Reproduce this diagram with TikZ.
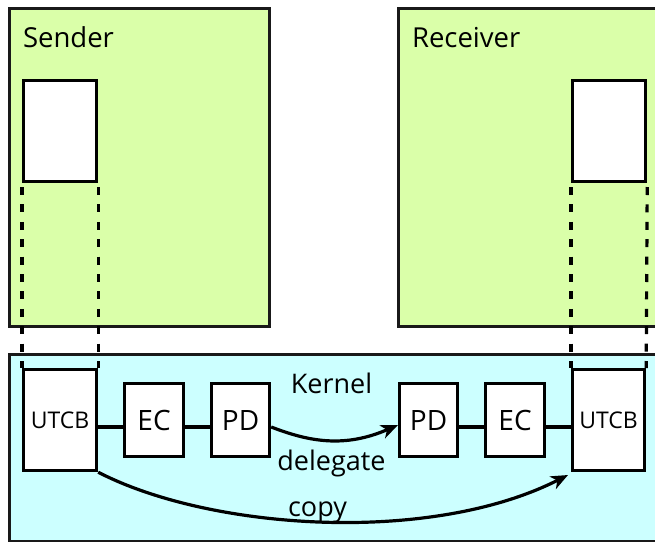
\documentclass[tikz,border=0pt]{standalone}
\usepackage{fontspec}
\setmainfont{Open Sans}
\usetikzlibrary{arrows.meta}
\definecolor{ugreen}{HTML}{DAFFA9}
\definecolor{ucyan}{HTML}{CCFFFF}
\begin{document}
\begin{tikzpicture}[x=1pt,y=-1pt,
  outer/.style={draw=black!90, line width=2.5pt, inner sep=0pt, anchor=north west},
  wbox/.style={draw, line width=3.2pt, fill=white, inner sep=0pt, anchor=north west},
  big/.style={font=\fontsize{27.5}{32}\selectfont},
  boxt/.style={font=\fontsize{28}{32}\selectfont},
  mid/.style={font=\fontsize{27}{31}\selectfont},
  small/.style={font=\fontsize{23}{27}\selectfont},
  guide/.style={line width=3.2pt, dash pattern=on 8pt off 9.4pt},
  conn/.style={line width=3.2pt},
  arr/.style={line width=3.2pt, -{Stealth[length=17pt, width=14pt, inset=5pt]}}]
\useasboundingbox (0,0) rectangle (655,541);
\clip (0,0) rectangle (655,541);
% outer regions
\node[outer, fill=ugreen, minimum width=260pt, minimum height=318pt] (sender) at (8,7) {};
\node[outer, fill=ugreen, minimum width=280pt, minimum height=318pt] (receiver) at (397,7) {};
\node[outer, fill=ucyan, minimum width=670pt, minimum height=186.5pt] (kernel) at (8,353) {};
\node[big, anchor=base west] (sendert) at (19.5,47) {Sender};
\node[big, anchor=base west] (receivert) at (408.5,47) {Receiver};
% user-space boxes
\node[wbox, minimum width=73pt, minimum height=101pt] (ubL) at (22,79) {};
\node[wbox, minimum width=73pt, minimum height=101pt] (ubR) at (571,79) {};
% kernel boxes
\node[wbox, minimum width=73pt, minimum height=101pt, small] (utcbL) at (22,368) {UTCB};
\node[wbox, minimum width=59pt, minimum height=73pt, boxt] (ecL) at (123,382) {EC};
\node[wbox, minimum width=58pt, minimum height=73pt, boxt] (pdL) at (210,382) {PD};
\node[wbox, minimum width=58pt, minimum height=73pt, boxt] (pdR) at (398,382) {PD};
\node[wbox, minimum width=59pt, minimum height=73pt, boxt] (ecR) at (484,382) {EC};
\node[wbox, minimum width=72pt, minimum height=101pt, small] (utcbR) at (571,368) {UTCB};
% dashed guides
\draw[guide] (ubL.south west |- 0,187) -- (utcbL.north west);
\draw[guide] (ubL.south east |- 0,187) -- (utcbL.north east);
\draw[guide] (ubR.south west |- 0,187) -- (utcbR.north west);
\draw[guide] (ubR.south east |- 0,187) -- (utcbR.north east);
% connectors
\draw[conn] (utcbL.east |- 0,427) -- (ecL.west |- 0,427);
\draw[conn] (ecL.east |- 0,427) -- (pdL.west |- 0,427);
\draw[conn] (pdR.east |- 0,427) -- (ecR.west |- 0,427);
\draw[conn] (ecR.east |- 0,427) -- (utcbR.west |- 0,427);
\draw[arr] (pdL.east |- 0,427) .. controls (310,442) and (345,448) .. (pdR.west |- 0,425);
\draw[arr] (utcbL.south east) .. controls (210,530) and (430,545) .. ([xshift=-3pt]utcbR.south west |- 0,475);
% labels
\node[mid, anchor=base] (kernelt) at (331.5,393) {Kernel};
\node[mid, anchor=base] (delegt) at (331.5,470) {delegate};
\node[mid, anchor=base] (copyt) at (317.5,516) {copy};
\end{tikzpicture}
\end{document}
